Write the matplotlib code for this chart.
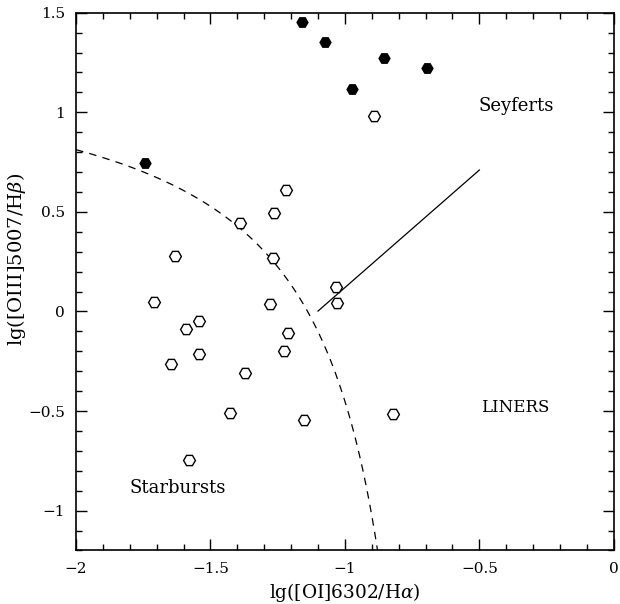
import numpy as np
import matplotlib
matplotlib.use("Agg")
import matplotlib.pyplot as plt
from matplotlib.ticker import MultipleLocator, FuncFormatter

plt.rcParams['font.family'] = ['DejaVu Serif']
plt.rcParams['mathtext.fontset'] = 'dejavuserif'

# Seyfert galaxies (filled markers)
sey_x = [-1.160, -1.074, -0.855, -0.695, -0.974, -1.744]
sey_y = [1.452, 1.352, 1.271, 1.221, 1.116, 0.744]

# other galaxies (open markers)
gal_x = [-0.892, -1.219, -1.264, -1.390, -1.632, -1.268, -1.033, -1.710,
         -1.030, -1.279, -1.543, -1.591, -1.212, -1.227, -1.543, -1.647,
         -1.372, -1.428, -1.152, -0.822, -1.580]
gal_y = [0.980, 0.608, 0.492, 0.442, 0.276, 0.266, 0.121, 0.045,
         0.040, 0.035, -0.050, -0.090, -0.106, -0.201, -0.216, -0.266,
         -0.307, -0.508, -0.543, -0.513, -0.744]

# Kewley et al. 2001 maximum starburst line and Seyfert/LINER division
ks_a, ks_b, ks_c = 0.73, 0.59, 1.33
sl_slope, sl_icpt = 1.18, 1.30
sl_range = [-1.10, -0.50]

fig = plt.figure(figsize=(6.2, 6.04), dpi=100)
ax = fig.add_axes([0.1226, 0.0886, 0.8674, 0.8904])

# dashed demarcation curve
xc = np.linspace(-2.0, -0.878, 300)
yc = ks_a / (xc + ks_b) + ks_c
ax.plot(xc, yc, ls=(0, (6, 5)), color='black', lw=0.9)

# solid Seyfert / LINER line
xs = np.array(sl_range)
ax.plot(xs, sl_slope * xs + sl_icpt, color='black', lw=0.9)

ax.plot(gal_x, gal_y, ls='none', marker='H', ms=8.5, mfc='white',
        mec='black', mew=1.0)
ax.plot(sey_x, sey_y, ls='none', marker='H', ms=7.8, mfc='black',
        mec='black', mew=1.0)

ax.text(-0.502, 1.03, 'Seyferts', fontsize=13, va='center', ha='left')
ax.text(-0.494, -0.482, 'LINERS', fontsize=12, va='center', ha='left')
ax.text(-1.80, -0.884, 'Starbursts', fontsize=13, va='center', ha='left')

ax.set_xlim(-2, 0)
ax.set_ylim(-1.2, 1.5)

ax.xaxis.set_major_locator(MultipleLocator(0.5))
ax.xaxis.set_minor_locator(MultipleLocator(0.1))
ax.yaxis.set_major_locator(MultipleLocator(0.5))
ax.yaxis.set_minor_locator(MultipleLocator(0.1))


def fmt(v, pos):
    s = ('%g' % round(v, 2))
    return s.replace('-', '\u2212')


ax.xaxis.set_major_formatter(FuncFormatter(fmt))
ax.yaxis.set_major_formatter(FuncFormatter(fmt))
ax.tick_params(which='both', direction='in', top=True, right=True,
               labelsize=11, width=1.0)
ax.tick_params(which='major', length=8, pad=8)
ax.tick_params(which='minor', length=4)
for sp in ax.spines.values():
    sp.set_linewidth(1.2)

ax.set_xlabel(r'lg([OI]6302/H$\alpha$)', fontsize=13.3, labelpad=4)
ax.set_ylabel(r'lg([OIII]5007/H$\beta$)', fontsize=14)
ax.yaxis.set_label_coords(-0.09, 0.542)

fig.savefig('out.png', dpi=100)
